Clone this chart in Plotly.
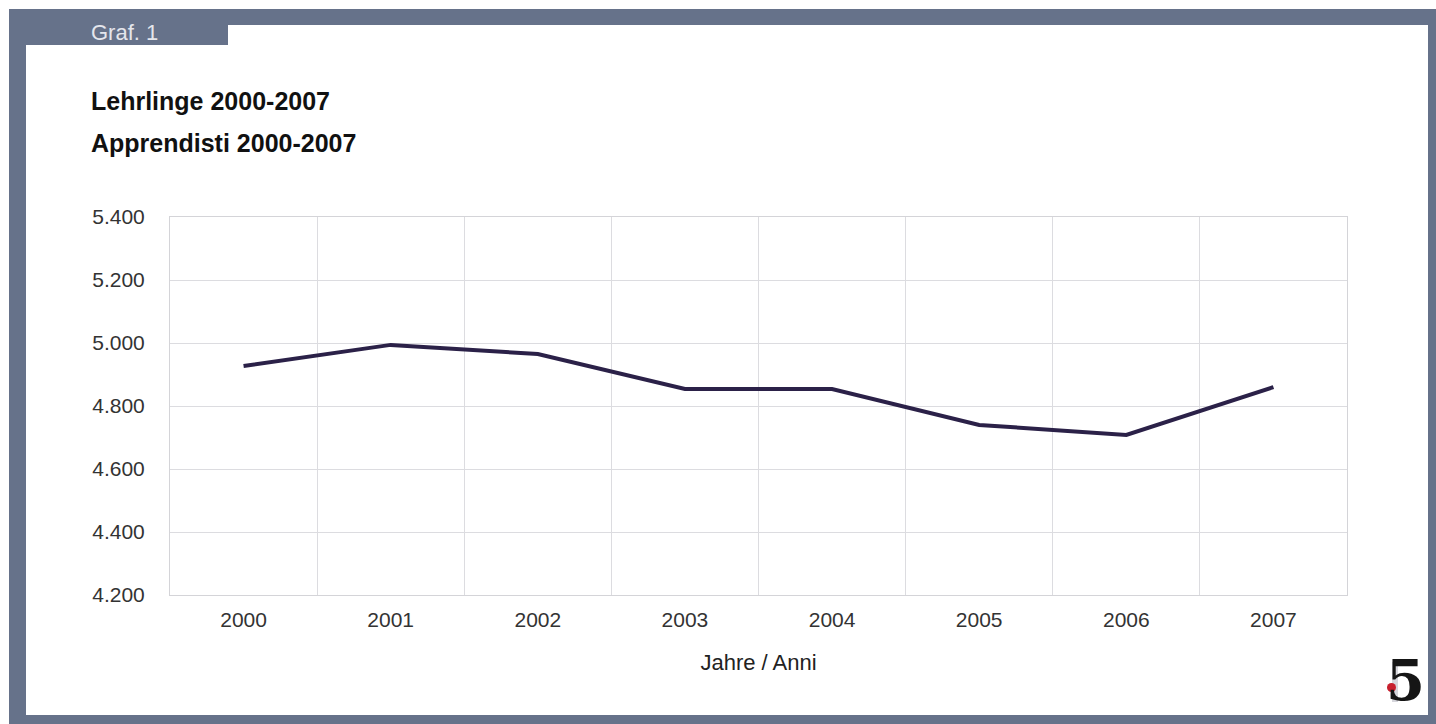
import plotly.graph_objects as go

years = [2000, 2001, 2002, 2003, 2004, 2005, 2006, 2007]
apprentices = [4927, 4994, 4965, 4854, 4854, 4740, 4708, 4860]
y_ticks = [4200, 4400, 4600, 4800, 5000, 5200, 5400]
title_lines = ["Lehrlinge 2000-2007", "Apprendisti 2000-2007"]
x_title = "Jahre / Anni"
tab_label = "Graf. 1"

W, H = 1436, 724
L, R, T, B = 170, 1347, 217, 595
FRAME = "#66728a"
FONT = "Liberation Sans, Arial, sans-serif"


def px(x):
    return (x - L) / (R - L)


def py(y):
    return (B - y) / (B - T)


fig = go.Figure()
fig.add_trace(go.Scatter(
    x=years, y=apprentices, mode="lines",
    line=dict(color="#2b2148", width=4), hoverinfo="x+y", showlegend=False,
))

shapes = []
def rect(x0, y0, x1, y1, color):
    shapes.append(dict(type="rect", xref="paper", yref="paper",
                       x0=px(x0), x1=px(x1), y0=py(y1), y1=py(y0),
                       fillcolor=color, line=dict(width=0), layer="above"))

# frame
rect(9, 9, W, 25, FRAME)
rect(9, 9, 26, H, FRAME)
rect(1428, 9, W, H, FRAME)
rect(9, 715, W, H, FRAME)
rect(9, 9, 228, 45, FRAME)
# logo
rect(1392, 662, 1398, 702, "#d6d6dc")
shapes.append(dict(type="circle", xref="paper", yref="paper",
                   x0=px(1387), x1=px(1396), y0=py(692), y1=py(683),
                   fillcolor="#c8202e", line=dict(width=0), layer="above"))

annotations = [
    dict(text=tab_label, x=px(89), y=py(32), xref="paper", yref="paper",
         xanchor="left", yanchor="middle", showarrow=False,
         font=dict(family=FONT, size=22, color="#e4e6ec")),
    dict(text="<b>" + title_lines[0] + "</b>", x=px(89), y=py(101), xref="paper", yref="paper",
         xanchor="left", yanchor="middle", showarrow=False,
         font=dict(family=FONT, size=25, color="#111111")),
    dict(text="<b>" + title_lines[1] + "</b>", x=px(89), y=py(143), xref="paper", yref="paper",
         xanchor="left", yanchor="middle", showarrow=False,
         font=dict(family=FONT, size=25, color="#111111")),
    dict(text="<b>5</b>", x=px(1405), y=py(680), xref="paper", yref="paper",
         xanchor="center", yanchor="middle", showarrow=False,
         font=dict(family="DejaVu Serif, serif", size=56, color="#151515")),
]

fig.update_layout(
    width=W, height=H,
    margin=dict(l=L, r=W - R, t=T, b=H - B, pad=0),
    paper_bgcolor="white", plot_bgcolor="white",
    separators=",.",
    font=dict(family=FONT, size=21, color="#333333"),
    shapes=shapes, annotations=annotations,
    xaxis=dict(
        range=[1999.5, 2007.5], tickvals=years, ticktext=[str(y) for y in years],
        showgrid=False, zeroline=False, ticks="", ticklabelstandoff=6,
        showline=True, linecolor="#d4d4d8", linewidth=1, mirror=True,
        minor=dict(tick0=1999.5, dtick=1, showgrid=True, gridcolor="#dcdce0", gridwidth=1, ticks=""),
        title=dict(text=x_title, font=dict(family=FONT, size=22, color="#222222"), standoff=24),
        tickfont=dict(family=FONT, size=21, color="#333333"),
    ),
    yaxis=dict(
        range=[4200, 5400], tickvals=y_ticks, tickformat=",.0f",
        showgrid=True, gridcolor="#dcdce0", gridwidth=1, zeroline=False, ticks="",
        showline=True, linecolor="#d4d4d8", linewidth=1, mirror=True,
        ticklabelstandoff=20,
        tickfont=dict(family=FONT, size=21, color="#333333"),
    ),
)

fig.write_html("out.html", config={"displayModeBar": False},
               post_script="document.body.style.margin='0';document.body.style.overflow='hidden';")
